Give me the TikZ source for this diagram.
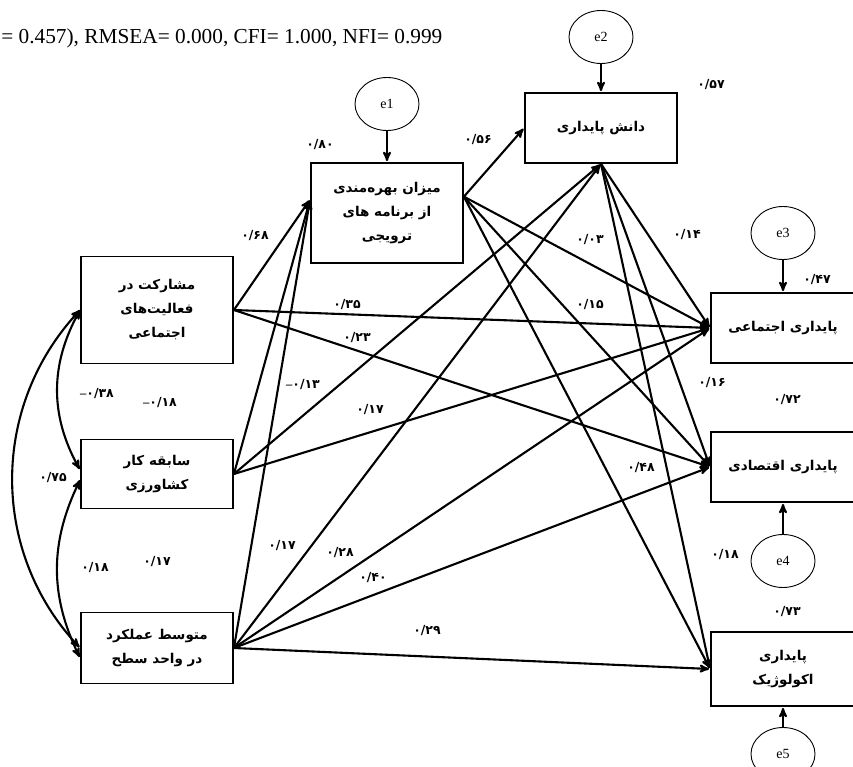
\documentclass[tikz,border=0pt]{standalone}
\usepackage{fontspec}
\setmainfont{Liberation Serif}
\newfontfamily\farsi[Script=Arabic]{DejaVu Sans}
\TeXXeTstate=1
\usetikzlibrary{arrows,shapes.geometric}
\newcommand{\fa}[1]{\beginR#1\endR}
\newcommand{\minussign}{{\rmfamily\bfseries --}}

\begin{document}
\begin{tikzpicture}[->,>=stealth',shorten >=1pt,x=1pt,y=-1pt,line width=2.1pt,
    font=\farsi\bfseries\fontsize{13.5}{24}\selectfont, align=center]

    \tikzstyle{box}=[draw=black,rectangle,minimum width=152pt,line width=1.8pt,inner sep=2pt]
    \tikzstyle{err}=[draw=black,ellipse,minimum width=64pt,minimum height=53pt,line width=0.9pt,
                     inner sep=0pt,font=\rmfamily\fontsize{14}{14}\selectfont]
    \tikzstyle{coef}=[font=\farsi\bfseries\fontsize{12.5}{12.5}\selectfont,inner sep=0pt]

    \useasboundingbox (0,0) rectangle (853,767);

    \node[anchor=west,font=\rmfamily\fontsize{21.3}{21.3}\selectfont] (fit) at (-3,38)
        {= 0.457), RMSEA= 0.000, CFI= 1.000, NFI= 0.999};

    % exogenous variables
    \node[box,minimum height=107pt] (A) at (157,310) {\fa{مشارکت در}\\\fa{فعالیت‌های}\\\fa{اجتماعی}};
    \node[box,minimum height=69pt]  (B) at (157,474) {\fa{سابقه کار}\\\fa{کشاورزی}};
    \node[box,minimum height=71pt]  (C) at (157,648) {\fa{متوسط عملکرد}\\\fa{در واحد سطح}};

    % mediators
    \node[box,minimum height=100pt] (M) at (387,213) {\fa{میزان بهره‌مندی}\\\fa{از برنامه های}\\\fa{ترویجی}};
    \node[box,minimum height=70pt]  (K) at (601,128) {\fa{دانش پایداری}};

    % outcomes
    \node[box,minimum width=144pt,minimum height=70pt] (S) at (783,328) {\fa{پایداری اجتماعی}};
    \node[box,minimum width=144pt,minimum height=70pt] (E) at (783,467) {\fa{پایداری اقتصادی}};
    \node[box,minimum width=144pt,minimum height=74pt] (L) at (783,669) {\fa{پایداری}\\\fa{اکولوژیک}};

    % error terms
    \node[err] (e1) at (387,104) {e1};
    \node[err] (e2) at (601,37)  {e2};
    \node[err] (e3) at (783,233) {e3};
    \node[err] (e4) at (783,561) {e4};
    \node[err] (e5) at (783,754) {e5};

    \path (e1) edge (M)
          (e2) edge (K)
          (e3) edge (S)
          (e4) edge (E)
          (e5) edge (L)

          (A.east) edge (M.170)
          (A.east) edge (S.west)
          (A.east) edge (E.west)

          (B.east) edge (M.170)
          (B.east) edge (K.south)
          (B.east) edge (S.west)

          (C.east) edge (M.170)
          (C.east) edge (K.south)
          (C.east) edge (S.west)
          (C.east) edge (E.west)
          (C.east) edge (L.west)

          (M.12) edge (K.west)
          (M.12) edge (S.west)
          (M.12) edge (E.west)
          (M.12) edge (L.west)

          (K.south) edge (S.west)
          (K.south) edge (E.west)
          (K.south) edge (L.west)

          (A.west) edge [<->, bend right=43] (C.west)
          (A.west) edge [<->, bend right=29] ([yshift=4pt]B.west)
          ([yshift=-6pt]B.west) edge [<->, bend right=26] ([yshift=-10pt]C.west)
    ;

    % path coefficients
    \node[coef] (c1)  at (320,145) {۰/۸۰};
    \node[coef] (c2)  at (478,140) {۰/۵۶};
    \node[coef] (c3)  at (711,85)  {۰/۵۷};
    \node[coef] (c4)  at (255,236) {۰/۶۸};
    \node[coef] (c5)  at (590,240) {۰/۰۳};
    \node[coef] (c6)  at (687,235) {۰/۱۴};
    \node[coef] (c7)  at (817,280) {۰/۴۷};
    \node[coef] (c8)  at (347,305) {۰/۳۵};
    \node[coef] (c9)  at (590,305) {۰/۱۵};
    \node[coef] (c10) at (357,338) {۰/۲۳};
    \node[coef] (c11) at (97,394)  {\minussign۰/۳۸};
    \node[coef] (c12) at (160,403) {\minussign۰/۱۸};
    \node[coef] (c13) at (303,385) {\minussign۰/۱۳};
    \node[coef] (c14) at (370,410) {۰/۱۷};
    \node[coef] (c15) at (712,383) {۰/۱۶};
    \node[coef] (c16) at (787,400) {۰/۷۲};
    \node[coef] (c17) at (53,478)  {۰/۷۵};
    \node[coef] (c18) at (641,468) {۰/۴۸};
    \node[coef] (c19) at (282,546) {۰/۱۷};
    \node[coef] (c20) at (157,562) {۰/۱۷};
    \node[coef] (c21) at (95,568)  {۰/۱۸};
    \node[coef] (c22) at (340,553) {۰/۲۸};
    \node[coef] (c23) at (373,578) {۰/۴۰};
    \node[coef] (c24) at (725,555) {۰/۱۸};
    \node[coef] (c25) at (787,612) {۰/۷۳};
    \node[coef] (c26) at (427,631) {۰/۲۹};
\end{tikzpicture}
\end{document}
